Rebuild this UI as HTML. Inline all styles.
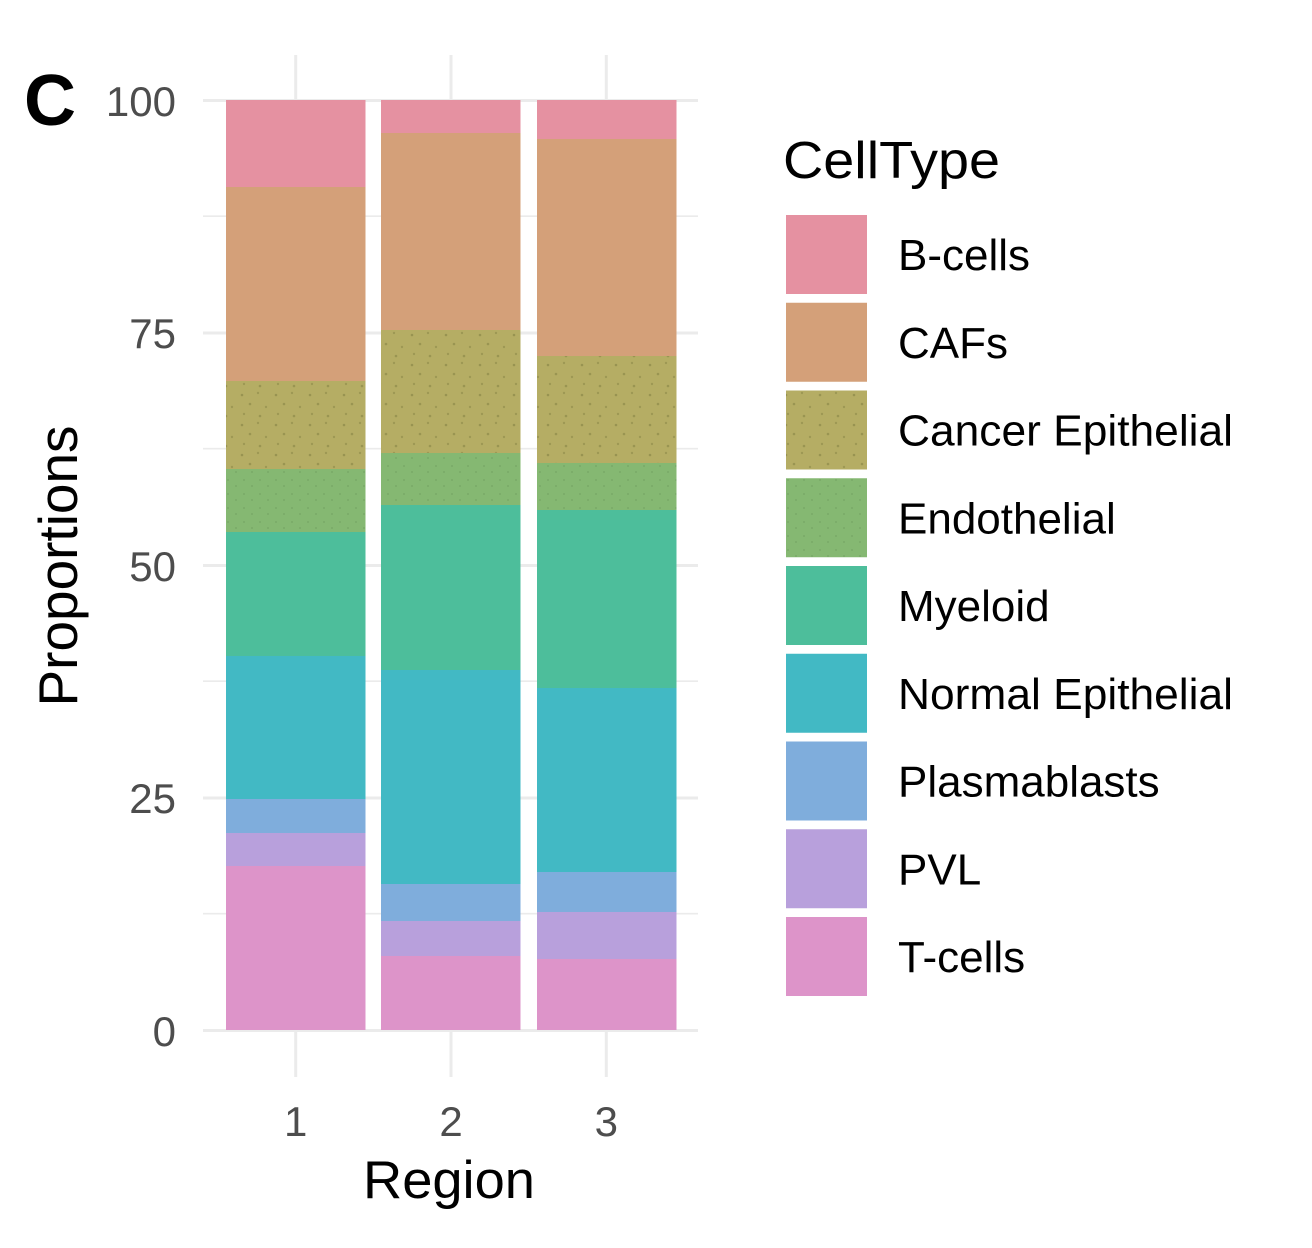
<!DOCTYPE html>
<html>
<head>
<meta charset="utf-8">
<style>
  html, body { margin:0; padding:0; background:#ffffff; }
  body { width:1312px; height:1248px; overflow:hidden; }
  svg { display:block; }
  text { font-family: "Liberation Sans", Arial, sans-serif; }
</style>
</head>
<body>
<svg width="1312" height="1248" viewBox="0 0 1312 1248" xmlns="http://www.w3.org/2000/svg">
  <defs>
    <pattern id="dotsCE" x="0" y="0" width="34" height="30" patternUnits="userSpaceOnUse">
      <rect width="34" height="30" fill="#B5AD64"/>
      <circle cx="4" cy="5" r="1.3" fill="#8E8A4A" opacity="0.75"/>
      <circle cx="20" cy="3" r="1.2" fill="#8E8A4A" opacity="0.6"/>
      <circle cx="12" cy="14" r="1.3" fill="#8E8A4A" opacity="0.7"/>
      <circle cx="28" cy="17" r="1.2" fill="#8E8A4A" opacity="0.6"/>
      <circle cx="6" cy="24" r="1.2" fill="#8E8A4A" opacity="0.6"/>
      <circle cx="22" cy="26" r="1.3" fill="#8E8A4A" opacity="0.7"/>
    </pattern>
    <pattern id="dotsEN" x="0" y="0" width="16" height="14" patternUnits="userSpaceOnUse">
      <rect width="16" height="14" fill="#85B872"/>
      <circle cx="4" cy="4" r="1" fill="#6F9E5E" opacity="0.55"/>
      <circle cx="12" cy="10" r="1" fill="#6F9E5E" opacity="0.55"/>
    </pattern>
  </defs>

  <!-- minor horizontal gridlines -->
  <g stroke="#EBEBEB" stroke-width="1.6">
    <line x1="203" y1="216.2" x2="698" y2="216.2"/>
    <line x1="203" y1="448.7" x2="698" y2="448.7"/>
    <line x1="203" y1="681.2" x2="698" y2="681.2"/>
    <line x1="203" y1="913.7" x2="698" y2="913.7"/>
  </g>
  <!-- major horizontal gridlines -->
  <g stroke="#EBEBEB" stroke-width="3">
    <line x1="203" y1="100.5" x2="698" y2="100.5"/>
    <line x1="203" y1="333" x2="698" y2="333"/>
    <line x1="203" y1="565.5" x2="698" y2="565.5"/>
    <line x1="203" y1="798" x2="698" y2="798"/>
    <line x1="203" y1="1030.5" x2="698" y2="1030.5"/>
  </g>
  <!-- vertical gridlines -->
  <g stroke="#EBEBEB" stroke-width="3">
    <line x1="295.7" y1="55" x2="295.7" y2="1077"/>
    <line x1="451" y1="55" x2="451" y2="1077"/>
    <line x1="606.3" y1="55" x2="606.3" y2="1077"/>
  </g>

  <!-- Bar 1 -->
  <g>
    <rect x="226" y="100" width="139.5" height="87" fill="#E591A1"/>
    <rect x="226" y="187" width="139.5" height="194" fill="#D4A079"/>
    <rect x="226" y="381" width="139.5" height="88" fill="url(#dotsCE)"/>
    <rect x="226" y="469" width="139.5" height="63" fill="url(#dotsEN)"/>
    <rect x="226" y="532" width="139.5" height="124" fill="#4DBE9B"/>
    <rect x="226" y="656" width="139.5" height="143" fill="#42B9C4"/>
    <rect x="226" y="799" width="139.5" height="34" fill="#7FADDC"/>
    <rect x="226" y="833" width="139.5" height="33" fill="#B8A0DC"/>
    <rect x="226" y="866" width="139.5" height="164" fill="#DD94C9"/>
  </g>
  <!-- Bar 2 -->
  <g>
    <rect x="381" y="100" width="139.5" height="33" fill="#E591A1"/>
    <rect x="381" y="133" width="139.5" height="197" fill="#D4A079"/>
    <rect x="381" y="330" width="139.5" height="123" fill="url(#dotsCE)"/>
    <rect x="381" y="453" width="139.5" height="52" fill="url(#dotsEN)"/>
    <rect x="381" y="505" width="139.5" height="165" fill="#4DBE9B"/>
    <rect x="381" y="670" width="139.5" height="214" fill="#42B9C4"/>
    <rect x="381" y="884" width="139.5" height="37" fill="#7FADDC"/>
    <rect x="381" y="921" width="139.5" height="35" fill="#B8A0DC"/>
    <rect x="381" y="956" width="139.5" height="74" fill="#DD94C9"/>
  </g>
  <!-- Bar 3 -->
  <g>
    <rect x="537" y="100" width="139.5" height="39" fill="#E591A1"/>
    <rect x="537" y="139" width="139.5" height="217" fill="#D4A079"/>
    <rect x="537" y="356" width="139.5" height="107" fill="url(#dotsCE)"/>
    <rect x="537" y="463" width="139.5" height="47" fill="url(#dotsEN)"/>
    <rect x="537" y="510" width="139.5" height="178" fill="#4DBE9B"/>
    <rect x="537" y="688" width="139.5" height="184" fill="#42B9C4"/>
    <rect x="537" y="872" width="139.5" height="40" fill="#7FADDC"/>
    <rect x="537" y="912" width="139.5" height="47" fill="#B8A0DC"/>
    <rect x="537" y="959" width="139.5" height="71" fill="#DD94C9"/>
  </g>

  <!-- Panel letter -->
  <text x="24" y="125" font-size="72" font-weight="bold" fill="#000000">C</text>

  <!-- Y tick labels -->
  <g font-size="42" fill="#4D4D4D" text-anchor="end">
    <text x="176" y="116">100</text>
    <text x="176" y="348">75</text>
    <text x="176" y="581">50</text>
    <text x="176" y="813">25</text>
    <text x="176" y="1046">0</text>
  </g>

  <!-- X tick labels -->
  <g font-size="42" fill="#4D4D4D" text-anchor="middle">
    <text x="295.7" y="1136">1</text>
    <text x="451" y="1136">2</text>
    <text x="606.3" y="1136">3</text>
  </g>

  <!-- Axis titles -->
  <text x="449" y="1198" font-size="53" fill="#000000" text-anchor="middle" textLength="172" lengthAdjust="spacingAndGlyphs">Region</text>
  <text transform="translate(77,566) rotate(-90)" font-size="55" fill="#000000" text-anchor="middle" textLength="281" lengthAdjust="spacingAndGlyphs">Proportions</text>

  <!-- Legend -->
  <text x="783" y="178" font-size="52" fill="#000000" textLength="217" lengthAdjust="spacingAndGlyphs">CellType</text>
  <g>
    <rect x="786" y="215" width="81" height="79" fill="#E591A1"/>
    <rect x="786" y="302.75" width="81" height="79" fill="#D4A079"/>
    <rect x="786" y="390.5" width="81" height="79" fill="url(#dotsCE)"/>
    <rect x="786" y="478.25" width="81" height="79" fill="url(#dotsEN)"/>
    <rect x="786" y="566" width="81" height="79" fill="#4DBE9B"/>
    <rect x="786" y="653.75" width="81" height="79" fill="#42B9C4"/>
    <rect x="786" y="741.5" width="81" height="79" fill="#7FADDC"/>
    <rect x="786" y="829.25" width="81" height="79" fill="#B8A0DC"/>
    <rect x="786" y="917" width="81" height="79" fill="#DD94C9"/>
  </g>
  <g font-size="44" fill="#000000">
    <text x="898" y="270">B-cells</text>
    <text x="898" y="357.75">CAFs</text>
    <text x="898" y="445.5" textLength="335" lengthAdjust="spacingAndGlyphs">Cancer Epithelial</text>
    <text x="898" y="533.25">Endothelial</text>
    <text x="898" y="621">Myeloid</text>
    <text x="898" y="708.75" textLength="335" lengthAdjust="spacingAndGlyphs">Normal Epithelial</text>
    <text x="898" y="796.5">Plasmablasts</text>
    <text x="898" y="884.25">PVL</text>
    <text x="898" y="972">T-cells</text>
  </g>
</svg>
</body>
</html>
